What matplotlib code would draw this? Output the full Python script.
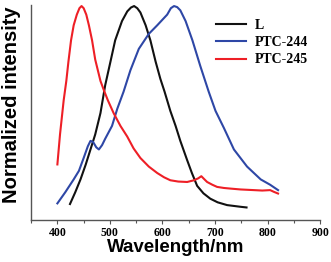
"""
Normalized emission spectra of L, PTC-244 and PTC-245.
"""

import matplotlib

matplotlib.use("Agg")
import matplotlib.pyplot as plt
from matplotlib.ticker import MultipleLocator


# L
wl_l = [424, 434, 444, 454, 463, 472, 482, 491, 501, 510, 523, 533,
        540, 546, 552, 558, 568, 577, 587, 596, 604, 615, 625, 634, 647,
        656, 666, 678, 691, 705, 723, 749, 760]
int_l = [0.075, 0.13, 0.19, 0.26, 0.33, 0.40, 0.50, 0.63, 0.74, 0.84,
         0.93, 0.975, 0.993, 1.0, 0.99, 0.97, 0.91, 0.84, 0.74, 0.66,
         0.60, 0.51, 0.44, 0.37, 0.28, 0.22, 0.16, 0.125, 0.10, 0.083,
         0.07, 0.062, 0.059]

# PTC-244
wl_244 = [400, 415, 431, 441, 450, 458, 463, 468, 474, 479, 485, 491,
          504, 514, 526, 539, 555, 574, 590, 609, 616, 622, 628, 634,
          644, 657, 672, 688, 701, 717, 736, 761, 787, 805, 820]
int_244 = [0.078, 0.13, 0.19, 0.23, 0.29, 0.345, 0.37, 0.365, 0.34,
           0.33, 0.35, 0.38, 0.44, 0.52, 0.60, 0.70, 0.80, 0.87, 0.91,
           0.96, 0.99, 1.0, 0.995, 0.98, 0.93, 0.84, 0.72, 0.60, 0.51,
           0.43, 0.33, 0.25, 0.19, 0.165, 0.14]

# PTC-245
wl_245 = [400, 405, 412, 417, 421, 426, 431, 437, 442, 446, 450, 455,
          460, 466, 472, 482, 488, 496, 507, 520, 533, 545, 558, 574,
          590, 603, 615, 630, 647, 660, 668, 674, 680, 685, 695, 704,
          717, 730, 749, 774, 790, 805, 812, 820]
int_245 = [0.26, 0.40, 0.56, 0.65, 0.74, 0.84, 0.91, 0.96, 0.99, 1.0,
           0.99, 0.96, 0.91, 0.84, 0.75, 0.65, 0.61, 0.56, 0.50, 0.44,
           0.39, 0.335, 0.29, 0.25, 0.22, 0.20, 0.186, 0.18, 0.178,
           0.186, 0.195, 0.205, 0.19, 0.178, 0.165, 0.155, 0.15, 0.147,
           0.143, 0.14, 0.138, 0.14, 0.132, 0.124]

labels = ["L", "PTC-244", "PTC-245"]
colors = ["#111111", "#2e47a6", "#ee1f26"]


fig = plt.figure(figsize=(3.31, 2.62), dpi=100)
ax = fig.add_axes([0.094, 0.160, 0.873, 0.821])

ax.plot(wl_l, int_l, color=colors[0], lw=1.5, label=labels[0])
ax.plot(wl_244, int_244, color=colors[1], lw=1.5, label=labels[1])
ax.plot(wl_245, int_245, color=colors[2], lw=1.5, label=labels[2])

ax.set_xlim(350, 900)
ax.set_ylim(0, 1.005)

ax.xaxis.set_major_locator(MultipleLocator(100))
ax.xaxis.set_minor_locator(MultipleLocator(50))
ax.set_yticks([])

for side in ("top", "right"):
    ax.spines[side].set_visible(False)
for side in ("left", "bottom"):
    ax.spines[side].set_color("#555555")
    ax.spines[side].set_linewidth(1.0)

ax.tick_params(axis="x", which="major", direction="out", length=3,
               width=0.8, color="#555555", pad=2)
ax.tick_params(axis="x", which="minor", direction="out", length=2,
               width=0.8, color="#555555")
for lab in ax.get_xticklabels():
    lab.set_fontfamily("Liberation Serif")
    lab.set_fontweight("bold")
    lab.set_fontsize(8.5)

ax.set_xlabel("Wavelength/nm", fontfamily="Liberation Sans",
              fontweight="bold", fontsize=13.5, labelpad=0)
ax.set_ylabel("Normalized intensity", fontfamily="Liberation Sans",
              fontweight="bold", fontsize=14.5, labelpad=1)
ax.yaxis.set_label_coords(-0.035, 0.535)

ax.legend(
    loc="upper left",
    bbox_to_anchor=(0.619, 0.96),
    frameon=False,
    prop={"family": "Liberation Serif", "weight": "bold", "size": 10},
    handlelength=2.2,
    handletextpad=0.6,
    labelspacing=0.3,
    borderaxespad=0,
)

fig.savefig("out.png", dpi=100)
